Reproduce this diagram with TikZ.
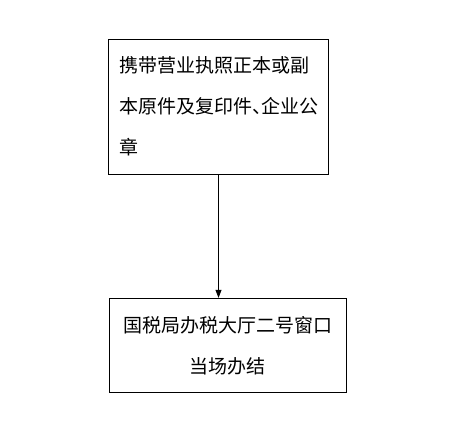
\documentclass[tikz,border=0pt]{standalone}
\usepackage{fontspec}
\newfontfamily\cjk{Noto Sans CJK SC}
\usetikzlibrary{arrows.meta}
\begin{document}
\begin{tikzpicture}[x=1pt, y=-1pt, >={Triangle[length=8pt, width=6pt]},
    box/.style={draw, line width=0.9pt, font=\cjk\fontsize{19}{41}\selectfont}]
    \fill[white] (0,0) rectangle (454,435);

    \node[box, minimum width=220.4pt, minimum height=134.7pt, text width=198.4pt,
        inner xsep=11pt, align=left] (carry) at (218.5,106.7)
        {携带营业执照正本或副\\\mbox{本原件及复印件、\kern-0.5em 企业公}\\章};
    \node[box, minimum width=236.7pt, minimum height=94pt, align=center] (window) at (227.7,345.3)
        {国税局办税大厅二号窗口\\当场办结};

    \draw[->, line width=0.9pt] (carry.south) -- (carry.south |- window.north);
\end{tikzpicture}
\end{document}
